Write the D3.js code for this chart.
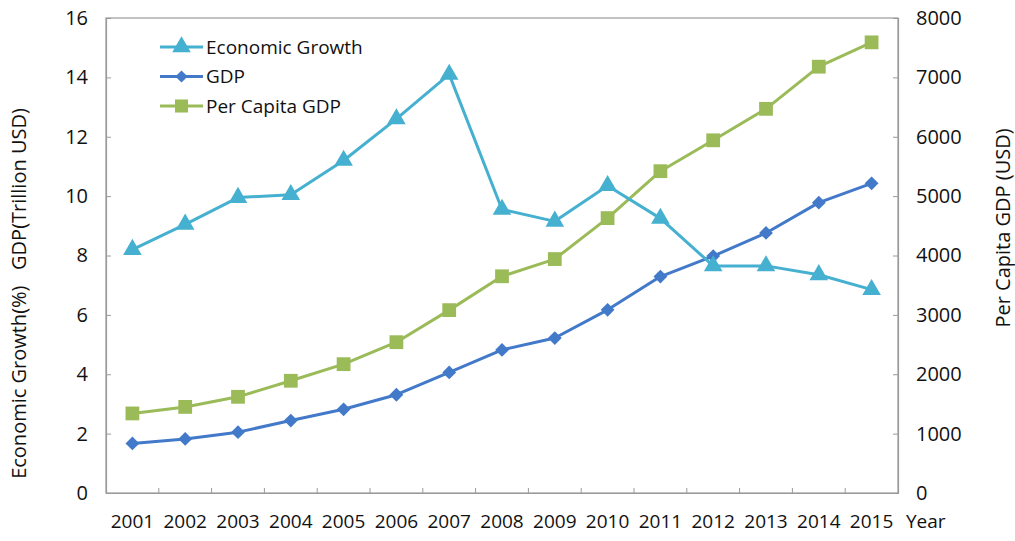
<!DOCTYPE html>
<html><head><meta charset="utf-8">
<script src="https://cdn.jsdelivr.net/npm/d3@7"></script>
<style>body{margin:0;background:#fff;} text{font-family:"Open Sans","Noto Sans",sans-serif;fill:#111;}</style>
</head><body>
<svg id="c" width="1015" height="541"></svg>
<script>
const years = ["2001","2002","2003","2004","2005","2006","2007","2008","2009","2010","2011","2012","2013","2014","2015"];
const growth = [8.2, 9.05, 9.95, 10.05, 11.2, 12.6, 14.1, 9.55, 9.15, 10.35, 9.25, 7.65, 7.65, 7.35, 6.85];
const gdp = [1.67, 1.82, 2.05, 2.44, 2.82, 3.31, 4.06, 4.82, 5.22, 6.17, 7.29, 7.98, 8.76, 9.78, 10.43];
const perCapita = [1340, 1450, 1620, 1890, 2170, 2540, 3080, 3650, 3940, 4630, 5420, 5940, 6470, 7180, 7590];
const leftTicks = [0,2,4,6,8,10,12,14,16];
const rightTicks = [0,1000,2000,3000,4000,5000,6000,7000,8000];
const seriesNames = ["Economic Growth","GDP","Per Capita GDP"];

const colors = {growth:"#45b0cf", gdp:"#4279c9", pc:"#9bbb59"};
const L=106, R=898, T=18, B=493;
const svg = d3.select("#c");
const x = d3.scaleBand().domain(years).range([L,R]);
const yL = d3.scaleLinear().domain([0,16]).range([B,T]);
const yR = d3.scaleLinear().domain([0,8000]).range([B,T]);
const axisColor = "#9a9a9a";

svg.append("rect").attr("x",L).attr("y",T).attr("width",R-L).attr("height",B-T)
  .attr("fill","none").attr("stroke",axisColor).attr("stroke-width",1.2);

const gl = svg.append("g").attr("transform",`translate(${L},0)`)
  .call(d3.axisLeft(yL).tickValues(leftTicks).tickSize(-5).tickPadding(18).tickFormat(d3.format("d")));
const gr = svg.append("g").attr("transform",`translate(${R},0)`)
  .call(d3.axisRight(yR).tickValues(rightTicks).tickSize(-5).tickPadding(18).tickFormat(d3.format("d")));
const gb = svg.append("g").attr("transform",`translate(0,${B})`)
  .call(d3.axisBottom(x).tickSize(0).tickPadding(22));
[gl,gr,gb].forEach(g=>{
  g.select(".domain").attr("stroke",axisColor).attr("stroke-width",1.2);
  g.selectAll(".tick line").attr("stroke",axisColor);
  g.selectAll("text").style("font-family",'"Open Sans","Noto Sans",sans-serif').attr("fill","#111");
});
gl.selectAll("text").style("font-size","20px");
gr.selectAll("text").style("font-size","20px");
gb.selectAll("text").style("font-size","19px");
const bounds = years.slice(1).map(y=>x(y));
svg.append("g").selectAll("line").data(bounds).join("line")
  .attr("x1",d=>d).attr("x2",d=>d).attr("y1",B).attr("y2",B-5).attr("stroke",axisColor);

svg.append("text").attr("x",R+8).attr("y",B+22).attr("dy","0.71em").style("font-size","19px").text("Year");

svg.append("text").attr("transform",`translate(26,${(T+B)/2+38}) rotate(-90)`).attr("text-anchor","middle")
  .style("font-size","20px").attr("xml:space","preserve").text("Economic Growth(%)   GDP(Trillion USD)");
svg.append("text").attr("transform",`translate(1010,228) rotate(-90)`).attr("text-anchor","middle")
  .style("font-size","20px").text("Per Capita GDP (USD)");

const cx = d => x(d)+x.bandwidth()/2;
function drawSeries(vals, yS, color, sym, size, rot){
  const data = years.map((y,i)=>({y, v:vals[i]}));
  svg.append("path").datum(data).attr("fill","none").attr("stroke",color).attr("stroke-width",3)
    .attr("stroke-linejoin","round")
    .attr("d", d3.line().x(d=>cx(d.y)).y(d=>yS(d.v)));
  svg.append("g").selectAll("path").data(data).join("path")
    .attr("transform",d=>`translate(${cx(d.y)},${yS(d.v)}) rotate(${rot||0})`)
    .attr("d", d3.symbol(sym,size)).attr("fill",color);
}
drawSeries(perCapita, yR, colors.pc, d3.symbolSquare, 190);
drawSeries(gdp, yL, colors.gdp, d3.symbolSquare, 95, 45);
drawSeries(growth, yL, colors.growth, d3.symbolTriangle, 150);

const leg = [{n:seriesNames[0],c:colors.growth,s:d3.symbolTriangle,z:150,r:0},
             {n:seriesNames[1],c:colors.gdp,s:d3.symbolSquare,z:75,r:45},
             {n:seriesNames[2],c:colors.pc,s:d3.symbolSquare,z:170,r:0}];
leg.forEach((d,i)=>{
  const yy = 47 + i*29.5;
  svg.append("line").attr("x1",160).attr("x2",203).attr("y1",yy).attr("y2",yy).attr("stroke",d.c).attr("stroke-width",3);
  svg.append("path").attr("transform",`translate(181.5,${yy}) rotate(${d.r})`).attr("d",d3.symbol(d.s,d.z)).attr("fill",d.c);
  svg.append("text").attr("x",206).attr("y",yy).attr("dy","0.35em").style("font-size","19px").text(d.n);
});
</script>
</body></html>
